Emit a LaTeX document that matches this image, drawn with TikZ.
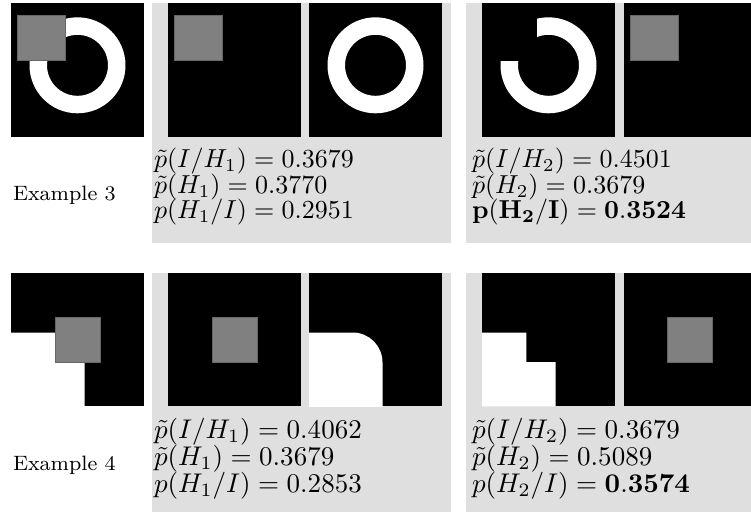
\documentclass[tikz,border=0pt]{standalone}
\usepackage{amsmath}
\usepackage{tikz}
\usetikzlibrary{positioning}

\begin{document}
\begin{tikzpicture}[
  x = 0.385pt, y = -0.385pt,
  panel/.style   = {fill=gray!25},
  frame/.style   = {fill=black},
  patch/.style   = {fill=gray, draw=gray!80!black, line width=0.2pt},
  blob/.style    = {fill=white},
  probs/.style   = {anchor=north west, inner sep=0pt, align=left,
                    font={\fontsize{10}{9.8}\selectfont\lineskiplimit=-10pt}},
  probsbig/.style = {probs, scale=1.04, transform shape,
                    font={\fontsize{10}{10}\selectfont\lineskiplimit=-10pt}},
  caption/.style = {anchor=base west, inner sep=0pt, font=\footnotesize},
]
  \useasboundingbox (0,0) rectangle (751,511);
  \clip (0,0) rectangle (751,511);

  % grey panels behind the hypotheses
  \foreach \y in {3.3,273} {
    \fill[panel] (152,\y) rectangle +(299,240);
    \fill[panel] (466,\y) rectangle +(300,240);
  }
  % black image frames
  \foreach \x in {11,168,309,482,624}
    \foreach \y in {3.3,273}
      \fill[frame] (\x,\y) rectangle +(133.3,133.3);

  % example 3: ring and patch
  \begin{scope}[shift={(11,3.3)}]
    \fill[blob, even odd rule] (66.5,62) circle (48) circle (30.5);
    \fill[patch] (6,11.5) rectangle (54,57);
  \end{scope}
  \begin{scope}[shift={(168,3.3)}]
    \fill[patch] (6,11.5) rectangle (54,57);
  \end{scope}
  \begin{scope}[shift={(309,3.3)}]
    \fill[blob, even odd rule] (66.5,62) circle (48) circle (30.5);
  \end{scope}
  \begin{scope}[shift={(482,3.3)}]
    \fill[blob, even odd rule] (66.5,62) circle (48) circle (30.5);
    \fill[frame] (0,0) rectangle (54.5,57.5);
  \end{scope}
  \begin{scope}[shift={(624,3.3)}]
    \fill[patch] (6,11.5) rectangle (54,57);
  \end{scope}

  % example 4: step and patch
  \begin{scope}[shift={(11,273)}]
    \fill[blob] (0,59.5) -- (44.3,59.5) -- (44.3,89) -- (73.5,89)
      -- (73.5,133.3) -- (0,133.3) -- cycle;
    \fill[patch] (44,44) rectangle (89,89);
  \end{scope}
  \begin{scope}[shift={(168,273)}]
    \fill[patch] (44,44) rectangle (89,89);
  \end{scope}
  \begin{scope}[shift={(309,273)}]
    \clip (0,0) rectangle (133.3,133.3);
    \fill[blob, rounded corners=11.5pt] (-30,59.5) rectangle (73.5,170);
  \end{scope}
  \begin{scope}[shift={(482,273)}]
    \fill[blob] (0,59.5) -- (44.3,59.5) -- (44.3,89) -- (73.5,89)
      -- (73.5,133.3) -- (0,133.3) -- cycle;
  \end{scope}
  \begin{scope}[shift={(624,273)}]
    \fill[patch] (43.7,44) rectangle (88.7,89);
  \end{scope}

  % labels
  \node[caption] (ex3) at (12.5,200.5) {Example 3};
  \node[caption] (ex4) at (12.5,470) {Example 4};

  \node[probs] (h1a) at (153.5,147.8)
    {$\tilde{p}(I/H_1) = 0.3679$\\ $\tilde{p}(H_1) = 0.3770$\\ $p(H_1/I) = 0.2951$};
  \node[probs] (h2a) at (471.5,147.8)
    {$\tilde{p}(I/H_2) = 0.4501$\\ $\tilde{p}(H_2) = 0.3679$\\
     $\mathbf{p(H_2/I) = 0.3524}$};
  \node[probsbig] (h1b) at (153.5,418)
    {$\tilde{p}(I/H_1) = 0.4062$\\ $\tilde{p}(H_1) = 0.3679$\\ $p(H_1/I) = 0.2853$};
  \node[probsbig] (h2b) at (471.5,418)
    {$\tilde{p}(I/H_2) = 0.3679$\\ $\tilde{p}(H_2) = 0.5089$\\
     $p(H_2/I) = \mathbf{0.3574}$};
\end{tikzpicture}
\end{document}
